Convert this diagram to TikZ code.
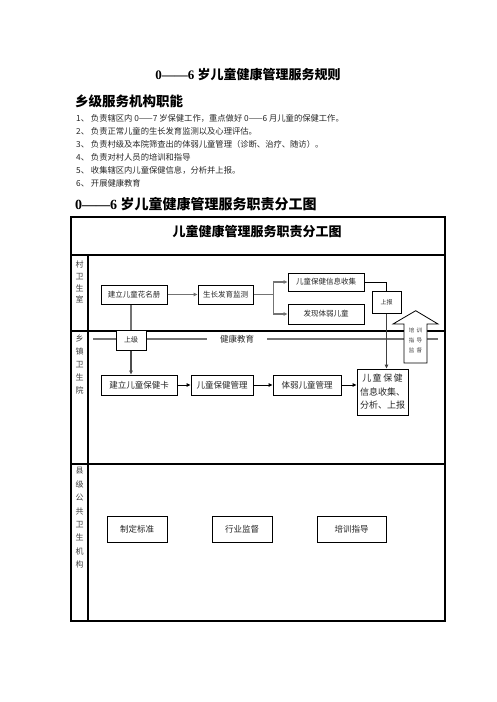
\documentclass[tikz,border=0pt]{standalone}
\usepackage{fontspec}
\setmainfont{Liberation Serif}
\newfontfamily\cjk{Noto Sans CJK SC}
\usetikzlibrary{arrows.meta,calc}
\tikzset{
  tline/.style={line width=1.1pt,black},
  gline/.style={line width=1.4pt,black!55},
  bline/.style={line width=1pt,black},
  arr/.style={-{Triangle[length=4pt,width=3.6pt]}},
  box/.style={draw,line width=1pt,fill=white,inner sep=0pt,font=\cjk\fontsize{7.5}{9}\selectfont,text=black!85},
  side/.style={inner sep=0pt,align=center,text=black!75},
}
\begin{document}
\begin{tikzpicture}[x=1pt,y=-1pt]
\useasboundingbox (0,0) rectangle (496,702);
% headings
\node[anchor=center] (h1) at (248,74) {\fontsize{13}{15}\selectfont\bfseries 0——6 {\cjk 岁儿童健康管理服务规则}};
\node[anchor=west,inner sep=0pt] (h2) at (75,101) {\cjk\bfseries\fontsize{13.5}{15}\selectfont 乡级服务机构职能};
\begin{scope}[every node/.style={anchor=west,inner sep=0pt,font=\cjk\fontsize{8.3}{10}\selectfont,text=black!85}]
\node (l1) at (76,118) {1、\ 负责辖区内 0——7 岁保健工作，重点做好 0——6 月儿童的保健工作。};
\node (l2) at (76,131) {2、\ 负责正常儿童的生长发育监测以及心理评估。};
\node (l3) at (76,144) {3、\ 负责村级及本院筛查出的体弱儿童管理（诊断、治疗、随访）。};
\node (l4) at (76,157) {4、\ 负责对村人员的培训和指导};
\node (l5) at (76,170) {5、\ 收集辖区内儿童保健信息，分析并上报。};
\node (l6) at (76,183) {6、\ 开展健康教育};
\end{scope}
\node[anchor=west,inner sep=0pt] (h3) at (75,204) {\fontsize{14}{16}\selectfont\bfseries 0——6 {\cjk 岁儿童健康管理服务职责分工图}};
% table
\draw[tline] (71,217) rectangle (445,621);
\draw[tline] (71,255) -- (445,255);
\draw[tline] (88,255) -- (88,621);
\draw[tline] (71,331) -- (445,331);
\draw[tline] (71,464) -- (445,464);
\node (tt) at (257,232) {\cjk\bfseries\fontsize{13}{15}\selectfont 儿童健康管理服务职责分工图};
\node[side,font=\cjk\fontsize{8}{11.7}\selectfont] (s1) at (79.5,282) {村\\卫\\生\\室};
\node[side,font=\cjk\fontsize{8}{13}\selectfont] (s2) at (79.5,364) {乡\\镇\\卫\\生\\院};
\node[side,font=\cjk\fontsize{8}{13.4}\selectfont] (s3) at (79.5,518) {县\\级\\公\\共\\卫\\生\\机\\构};
% health education line
\coordinate (el) at (93,339);
\coordinate (er) at (438,339);
\draw[gline,line width=1.6pt] (el) -- (er);
% village boxes
\node[box,minimum width=66pt,minimum height=19pt] (hm) at (134,294.5) {建立儿童花名册};
\node[box,minimum width=55pt,minimum height=19pt] (gz) at (225.5,294.5) {生长发育监测};
\node[box,minimum width=76pt,minimum height=18pt] (xx) at (326,282) {儿童保健信息收集};
\node[box,minimum width=76pt,minimum height=20pt] (fx) at (326,314) {发现体弱儿童};
\node[box,minimum width=29pt,minimum height=22pt,font=\cjk\fontsize{6}{7}\selectfont] (sb) at (386.5,302) {上报};
% township
\node[box,minimum width=30pt,minimum height=20pt,font=\cjk\fontsize{7}{8}\selectfont] (sj) at (131,340) {上级};
\node[fill=white,inner sep=0pt,minimum width=60pt,minimum height=12pt,font=\cjk\fontsize{8.5}{10}\selectfont,text=black!85] (jk) at (237,339) {健康教育};
\node[box,minimum width=76pt,minimum height=20pt,font=\cjk\fontsize{8.5}{10}\selectfont] (card) at (139,385) {建立儿童保健卡};
\node[box,minimum width=62pt,minimum height=20pt,font=\cjk\fontsize{8.5}{10}\selectfont] (gl) at (222,385) {儿童保健管理};
\node[box,minimum width=68pt,minimum height=20pt,font=\cjk\fontsize{8.5}{10}\selectfont] (rg) at (307,385) {体弱儿童管理};
\node[box,minimum width=51pt,minimum height=46pt,align=center,font=\cjk\fontsize{9}{13.5}\selectfont] (big) at (382.5,392) {儿\,童\,保\,健\\信息收集、\\分析、上报};
% block arrow
\draw[line width=0.8pt,fill=white] (404,363) -- (404,324) -- (393,324) -- (415.7,310.7) -- (438,324) -- (427,324) -- (427,363) -- cycle;
\node[side,font=\cjk\fontsize{5.5}{10}\selectfont] (px) at (415.5,340) {培\ \ 训\\指\ \ 导\\监\ \ 督};
% county boxes
\node[box,minimum width=60pt,minimum height=26pt,font=\cjk\fontsize{8.5}{10}\selectfont] (zd) at (137,529) {制定标准};
\node[box,minimum width=60pt,minimum height=26pt,font=\cjk\fontsize{8.5}{10}\selectfont] (hy) at (242,529) {行业监督};
\node[box,minimum width=69pt,minimum height=26pt,font=\cjk\fontsize{8.5}{10}\selectfont] (px2) at (351.5,529) {培训指导};
% connectors
\draw[gline,arr] (hm.east) -- (gz.west);
\draw[gline] (gz.east) -- ++(20,0) coordinate (br);
\draw[gline,arr] (br) |- (xx.west);
\draw[gline,arr] (br) |- (fx.west);
\draw[bline] (xx.east) -| (sb.north);
\draw[bline,black!75,arr] (sb.south) -- (sb.south |- big.north);
\draw[gline] (sj.north) -- (sj.north |- hm.south);
\draw[gline,black!70,arr] (sj.south) -- (sj.south |- card.north);
\draw[bline,arr] (card.east) -- (gl.west);
\draw[bline,arr] (gl.east) -- (rg.west);
\draw[bline,arr] (rg.east) -- (rg.east -| big.west);
\end{tikzpicture}
\end{document}
